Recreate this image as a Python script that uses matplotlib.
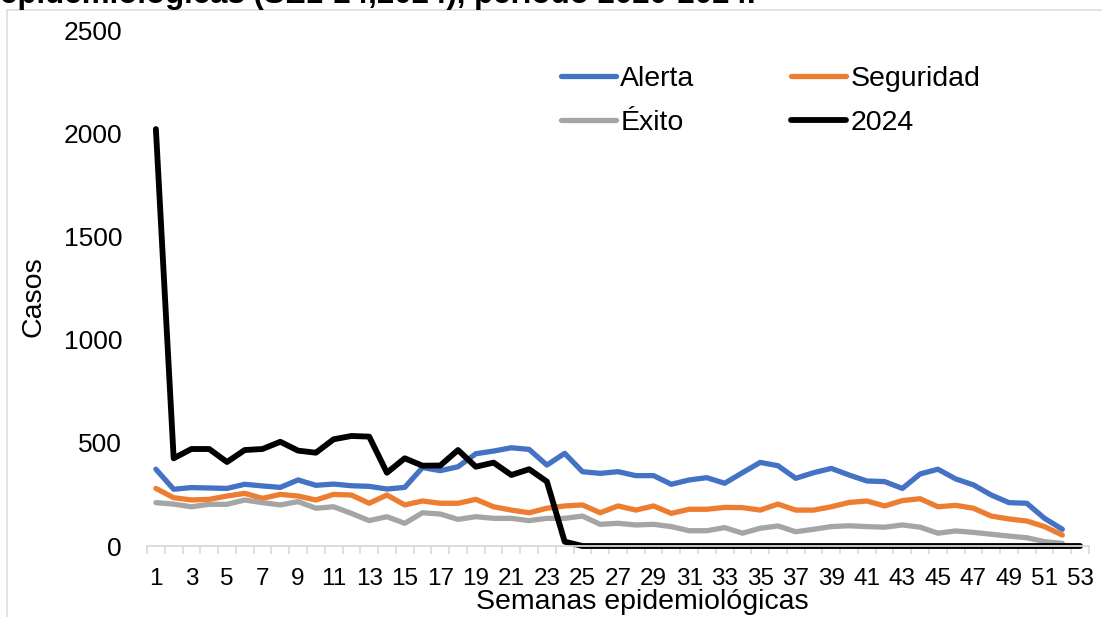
import matplotlib
matplotlib.use("Agg")
import matplotlib.pyplot as plt
from matplotlib.patches import Rectangle
from matplotlib.ticker import FixedLocator

plt.rcParams['font.family'] = ['Liberation Sans', 'DejaVu Sans']

# Weekly cases per epidemiological week (endemic channel + 2024)
weeks = list(range(1, 54))
alerta = [372, 275, 283, 281, 279, 299, 291, 284, 320, 294,
          300, 292, 289, 276, 284, 380, 365, 384, 447, 460,
          476, 468, 392, 449, 360, 352, 360, 341, 341, 299,
          320, 331, 304, 355, 405, 389, 328, 355, 376, 344,
          315, 312, 279, 349, 372, 325, 296, 247, 210, 207,
          134, 81]
seguridad = [279, 234, 223, 226, 242, 255, 231, 250, 242, 223,
             250, 247, 207, 247, 199, 218, 207, 207, 226, 190,
             174, 161, 183, 194, 199, 161, 194, 174, 194, 158,
             178, 178, 187, 186, 174, 203, 174, 174, 190, 211,
             218, 194, 220, 229, 190, 197, 183, 145, 131, 121,
             94, 53]
exito = [210, 203, 190, 202, 202, 223, 210, 199, 215, 183,
         190, 158, 123, 142, 110, 161, 155, 129, 142, 134,
         134, 123, 134, 134, 145, 105, 110, 102, 105, 94,
         74, 74, 89, 62, 86, 97, 69, 81, 94, 98,
         94, 91, 102, 91, 62, 73, 66, 57, 48, 40,
         21, 13]
casos_2024 = [2020, 425, 470, 470, 407, 465, 470, 505, 462, 452,
              517, 533, 530, 355, 425, 389, 390, 465, 384, 404,
              344, 372, 312, 21, 0, 0, 0, 0, 0, 0,
              0, 0, 0, 0, 0, 0, 0, 0, 0, 0,
              0, 0, 0, 0, 0, 0, 0, 0, 0, 0,
              0, 0, 0]

series = [("Alerta", alerta, "#4472C4", 3.8),
          ("Seguridad", seguridad, "#ED7D31", 3.8),
          ("Éxito", exito, "#A5A5A5", 3.8),
          ("2024", casos_2024, "#000000", 4.2)]

W, H = 1102, 617
fig = plt.figure(figsize=(W / 100, H / 100), dpi=100)
ax = fig.add_axes([147 / W, 1 - 546 / H, (1089 - 147) / W, (546 - 30) / H])

lines = {}
for name, vals, col, lw in series:
    lines[name], = ax.plot(weeks[:len(vals)], vals, color=col, lw=lw, label=name,
                           solid_capstyle='round', solid_joinstyle='round', clip_on=False)

ax.set_xlim(0.5, 53.5)
ax.set_ylim(0, 2500)
ax.set_yticks(range(0, 2501, 500))
ax.set_xticks(weeks[::2])
ax.set_xticklabels([str(w) for w in weeks[::2]])
ax.xaxis.set_minor_locator(FixedLocator([w - 0.5 for w in weeks] + [53.5]))

for s in ['top', 'right', 'left']:
    ax.spines[s].set_visible(False)
ax.spines['bottom'].set_color('#D9D9D9')
ax.spines['bottom'].set_linewidth(1.3)

ax.tick_params(axis='y', length=0, pad=18, labelsize=19)
ax.tick_params(axis='x', which='major', length=0, pad=16, labelsize=17.5)
ax.tick_params(axis='x', which='minor', length=6, width=1.2, color='#D9D9D9')

fig.text(33 / W, 1 - 297 / H, "Casos", rotation=90, ha='center', va='center', fontsize=20.5)
fig.text(642 / W, 1 - 609 / H, "Semanas epidemiológicas", ha='center', va='baseline', fontsize=20.5)

# title line clipped at the top edge, as in the source image
fig.text(0 / W, 1 - 3 / H, "epidemiológicas (SE1-24,2024), período 2020-2024.",
         ha='left', va='baseline', fontsize=22.5, fontweight='bold')

# row-major legend order: Alerta, Seguridad / Éxito, 2024
order = ["Alerta", "Éxito", "Seguridad", "2024"]
ax.legend([lines[n] for n in order], order, ncol=2, frameon=False, fontsize=20.5,
          loc='upper left', bbox_to_anchor=(561 / W, 1 - 66 / H), bbox_transform=fig.transFigure,
          borderpad=0, borderaxespad=0, handlelength=1.93, handletextpad=0.15,
          columnspacing=3.4, labelspacing=0.62)

# chart area outline
fig.add_artist(Rectangle((7 / W, -0.05), 1.2, 1 - 10 / H + 0.05, transform=fig.transFigure,
                         fill=False, edgecolor='#D9DEE6', lw=1.2))

fig.savefig("out.png", dpi=100)
